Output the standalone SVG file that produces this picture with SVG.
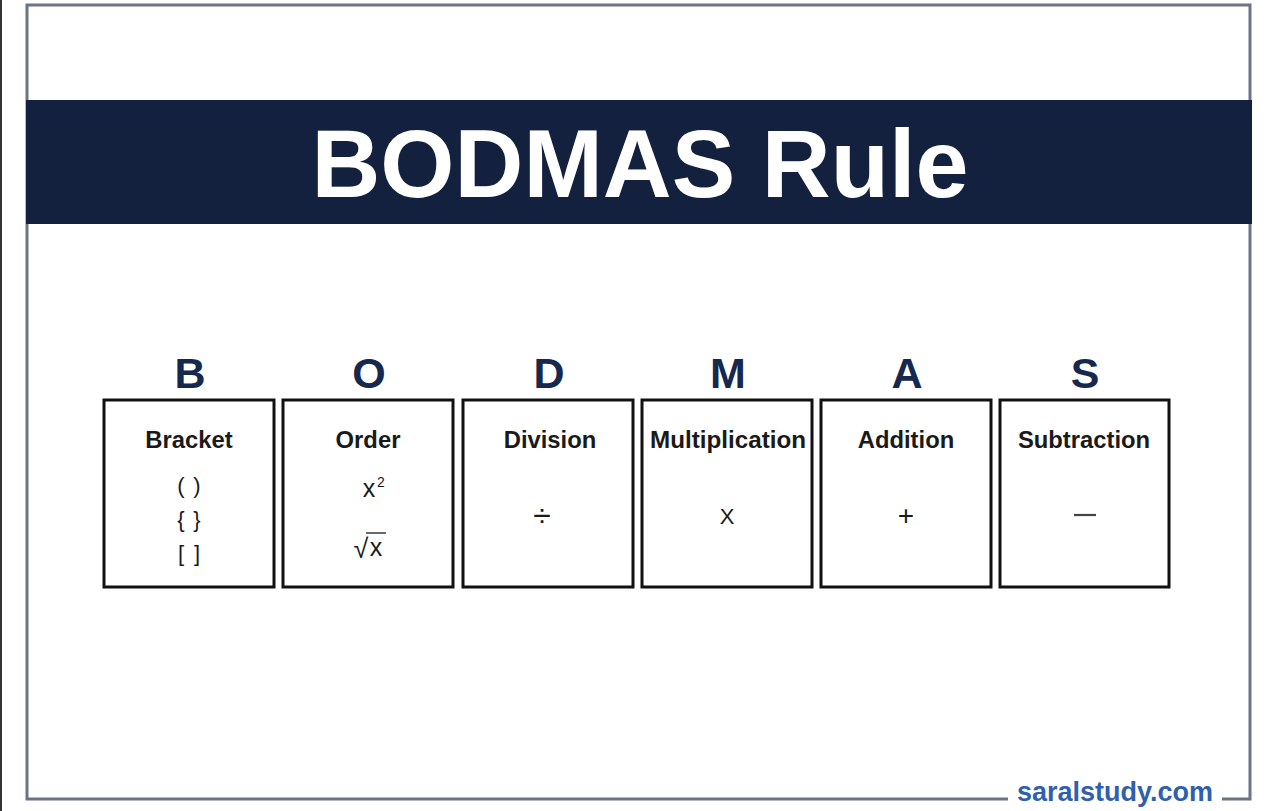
<svg xmlns="http://www.w3.org/2000/svg" width="1275" height="811" viewBox="0 0 1275 811">
<style>
.frame{fill:none;stroke:#6b7385;stroke-width:3}
.box{fill:#fff;stroke:#111;stroke-width:3}
.letter{font-family:"Liberation Sans",Arial,sans-serif;font-weight:bold;font-size:43px;fill:#16284d;text-anchor:middle}
.label{font-family:"Liberation Sans",Arial,sans-serif;font-weight:bold;font-size:23.8px;fill:#1a1a1a;text-anchor:middle}
.sym{font-family:"Liberation Sans",Arial,sans-serif;font-size:22px;fill:#1a1a1a;text-anchor:middle}
</style>
<rect x="0" y="0" width="1275" height="811" fill="#fff"/>
<rect x="0" y="0" width="2" height="811" fill="#333"/>
<path class="frame" d="M1008 799 H27 V5 H1250 V799 H1222"/>
<rect x="26" y="100" width="1226" height="124" fill="#13213f"/>
<text x="640" y="197" font-family="'Liberation Sans',Arial,sans-serif" font-weight="bold" font-size="96" fill="#fff" text-anchor="middle" textLength="657" lengthAdjust="spacingAndGlyphs">BODMAS Rule</text>
<g id="node-b">
<text class="letter" x="190" y="388">B</text>
<rect class="box" x="104" y="400" width="170" height="187"/>
<text class="label" x="189" y="448">Bracket</text>
<text class="sym" x="181" y="493">(</text><text class="sym" x="197" y="493">)</text>
<text class="sym" x="181" y="527">{</text><text class="sym" x="197" y="527">}</text>
<text class="sym" x="181" y="561">[</text><text class="sym" x="197" y="561">]</text>
</g>
<g id="node-o">
<text class="letter" x="369" y="388">O</text>
<rect class="box" x="283" y="400" width="170" height="187"/>
<text class="label" x="368" y="448">Order</text>
<text class="sym" x="369" y="497" style="font-size:25px">x</text>
<text class="sym" x="381" y="487" style="font-size:14px">2</text>
<text class="sym" x="361" y="558" style="font-size:27px">√</text>
<text class="sym" x="376" y="556" style="font-size:25px">x</text>
<line x1="366" y1="533" x2="386" y2="533" stroke="#1a1a1a" stroke-width="1.3"/>
</g>
<g id="node-d">
<text class="letter" x="549" y="388">D</text>
<rect class="box" x="463" y="400" width="170" height="187"/>
<text class="label" x="550" y="448">Division</text>
<text class="sym" x="542" y="526" style="font-size:32px">÷</text>
</g>
<g id="node-m">
<text class="letter" x="728" y="388">M</text>
<rect class="box" x="642" y="400" width="170" height="187"/>
<text class="label" x="728" y="448" textLength="156" lengthAdjust="spacingAndGlyphs">Multiplication</text>
<text class="sym" x="727" y="524">X</text>
</g>
<g id="node-a">
<text class="letter" x="907" y="388">A</text>
<rect class="box" x="821" y="400" width="170" height="187"/>
<text class="label" x="906" y="448">Addition</text>
<text class="sym" x="906" y="525" style="font-size:28px">+</text>
</g>
<g id="node-s">
<text class="letter" x="1085" y="388">S</text>
<rect class="box" x="1000" y="400" width="169" height="187"/>
<text class="label" x="1084" y="448">Subtraction</text>
<line x1="1074" y1="515" x2="1096" y2="515" stroke="#444" stroke-width="2.2"/>
</g>
<g id="connectors"></g>
<text x="1115" y="801" font-family="'Liberation Sans',Arial,sans-serif" font-weight="bold" font-size="27" fill="#2f5fae" text-anchor="middle">saralstudy.com</text>
</svg>
